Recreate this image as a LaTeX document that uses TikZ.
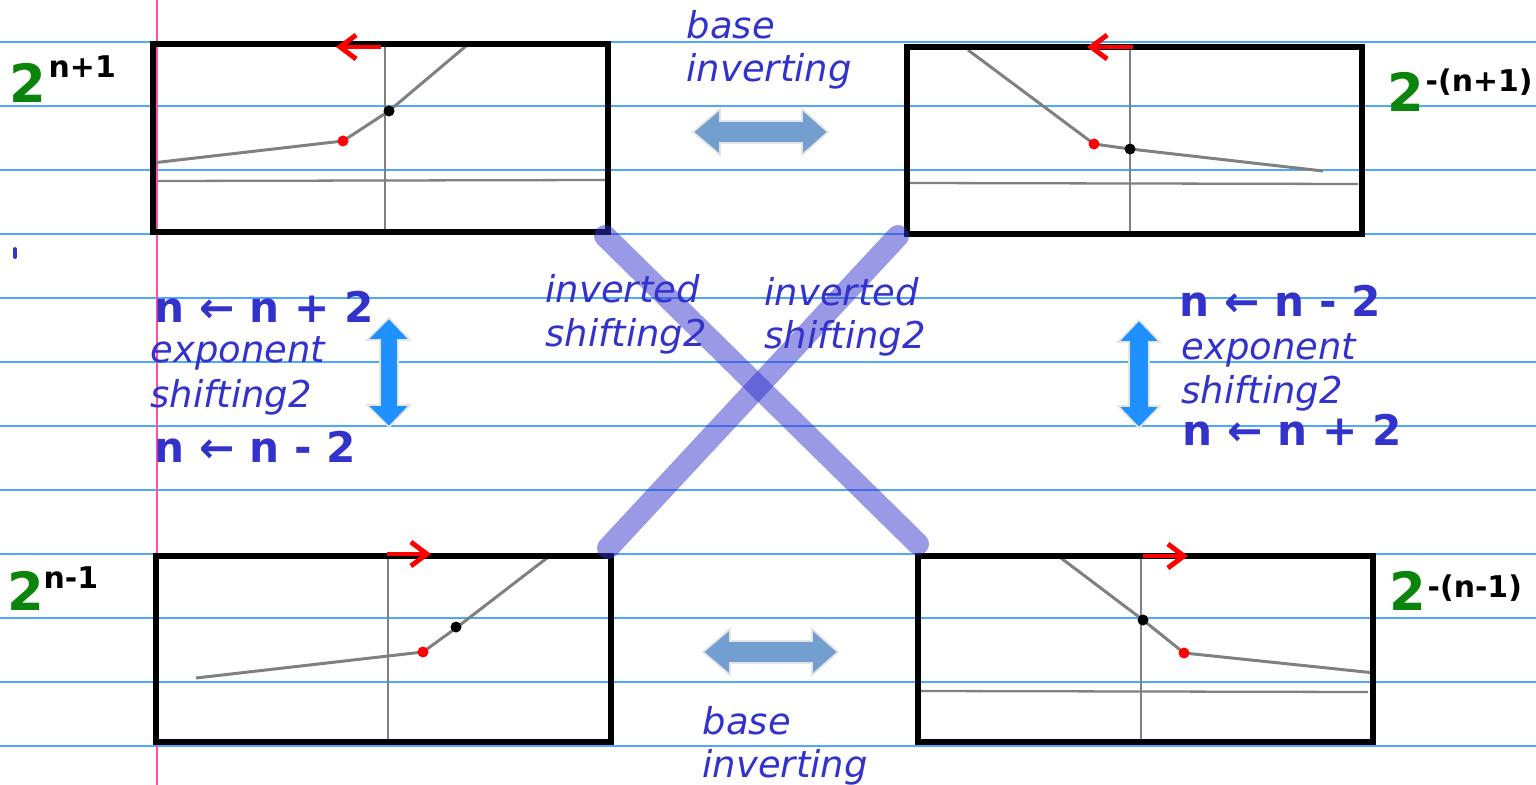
\documentclass[tikz,border=0pt]{standalone}
\usepackage{fontspec}
\setmainfont{DejaVu Sans}
\usetikzlibrary{arrows.meta}
\definecolor{NBRule}{HTML}{4FA8FF}
\definecolor{NBMargin}{HTML}{FF4FA7}
\definecolor{NBText}{HTML}{3333CC}
\definecolor{NBGreen}{HTML}{0A840A}
\definecolor{NBSwap}{HTML}{729FCF}
\definecolor{NBShift}{HTML}{1E90FF}
\definecolor{NBGraph}{HTML}{808080}

\begin{document}
\begin{tikzpicture}[x=0.01cm,y=-0.01cm,
  lbl/.style={anchor=base west,inner sep=0pt,text=NBText,font=\fontsize{10.5}{12.5}\selectfont\itshape},
  rulebold/.style={anchor=base west,inner sep=0pt,text=NBText,font=\fontsize{12}{14}\selectfont\bfseries},
  handtwo/.style={anchor=base west,inner sep=0pt,text=NBGreen,font=\fontsize{15}{18}\selectfont\bfseries},
  handexp/.style={anchor=base west,inner sep=0pt,text=black,font=\fontsize{8.5}{10}\selectfont\bfseries},
  frame/.style={line width=1.45pt},
  axisline/.style={NBGraph,line width=0.65pt},
  curve/.style={NBGraph,line width=0.85pt},
  shiftarrow/.style={red,line width=1.4pt,-{Straight Barb[length=0.16cm,width=0.24cm]}},
  crossbar/.style={NBText,opacity=.5,line width=0.22cm,line cap=round}]
\path[use as bounding box] (0,0) rectangle (1536,785);
% ruled paper
\draw[NBRule,line width=0.5pt] (0,42) -- (1536,42);
\draw[NBRule,line width=0.5pt] (0,106) -- (1536,106);
\draw[NBRule,line width=0.5pt] (0,170) -- (1536,170);
\draw[NBRule,line width=0.5pt] (0,234) -- (1536,234);
\draw[NBRule,line width=0.5pt] (0,298) -- (1536,298);
\draw[NBRule,line width=0.5pt] (0,362) -- (1536,362);
\draw[NBRule,line width=0.5pt] (0,426) -- (1536,426);
\draw[NBRule,line width=0.5pt] (0,490) -- (1536,490);
\draw[NBRule,line width=0.5pt] (0,554) -- (1536,554);
\draw[NBRule,line width=0.5pt] (0,618) -- (1536,618);
\draw[NBRule,line width=0.5pt] (0,682) -- (1536,682);
\draw[NBRule,line width=0.5pt] (0,746) -- (1536,746);
\draw[NBMargin,line width=0.5pt] (157,0) -- (157,785);
\draw[NBText,line width=1.1pt,line cap=round] (15,249) -- (15,257);
% top left: 2^(n+1)
\draw[axisline] (385,46) -- (385,231);
\draw[axisline] (158,181) -- (606,180);
\draw[curve] (152,163) -- (343,141) -- (389,111) -- (466,46);
\fill[red] (343,141) circle[radius=0.055cm];
\fill[black] (389,111) circle[radius=0.055cm];
\draw[frame] (153,44) rectangle (608,232);
\draw[shiftarrow] (381,47) -- (336,47);
\node[handtwo] (twoTL) at (9,103) {2};
\node[handexp] (expTL) at (48,78) {n+1};
% top right: 2^-(n+1)
\draw[axisline] (1130,50) -- (1130,234);
\draw[axisline] (909,183) -- (1358,184);
\draw[curve] (968,50) -- (1094,144) -- (1130,149) -- (1323,171);
\fill[red] (1094,144) circle[radius=0.055cm];
\fill[black] (1130,149) circle[radius=0.055cm];
\draw[frame] (907,47) rectangle (1362,234);
\draw[shiftarrow] (1133,47) -- (1087,47);
\node[handtwo] (twoTR) at (1387,112) {2};
\node[handexp] (expTR) at (1425,92) {-(n+1)};
% bottom left: 2^(n-1)
\draw[axisline] (388,558) -- (388,741);
\draw[curve] (196,678) -- (423,652) -- (456,628) -- (547,558);
\fill[red] (423,652) circle[radius=0.055cm];
\fill[black] (456,627) circle[radius=0.055cm];
\draw[frame] (156,556) rectangle (611,742);
\draw[shiftarrow] (387,554) -- (431,554);
\node[handtwo] (twoBL) at (7,610) {2};
\node[handexp] (expBL) at (43,588) {n-1};
% bottom right: 2^-(n-1)
\draw[axisline] (1141,558) -- (1141,741);
\draw[axisline] (920,691) -- (1368,692);
\draw[curve] (1061,558) -- (1143,620) -- (1184,653) -- (1375,673);
\fill[red] (1184,653) circle[radius=0.055cm];
\fill[black] (1143,620) circle[radius=0.055cm];
\draw[frame] (918,556) rectangle (1373,742);
\draw[shiftarrow] (1143,556) -- (1188,556);
\node[handtwo] (twoBR) at (1389,610) {2};
\node[handexp] (expBR) at (1427,597) {-(n-1)};
% inverted shifting cross
\coordinate (crossTL) at (605,236);
\coordinate (crossBR) at (918,544);
\coordinate (crossTR) at (898,236);
\coordinate (crossBL) at (608,548);
\draw[crossbar] (crossTL) -- (crossBR);
\draw[crossbar] (crossTR) -- (crossBL);
% base inverting arrows
\fill[NBSwap,draw=black!10,line width=0.5pt] (693,132) -- (720,109) -- (720,121) -- (802,121) -- (802,109) -- (828,132) -- (802,155) -- (802,143) -- (720,143) -- (720,155) -- cycle;
\fill[NBSwap,draw=black!10,line width=0.5pt] (703,652) -- (730,629) -- (730,641) -- (812,641) -- (812,629) -- (838,652) -- (812,675) -- (812,663) -- (730,663) -- (730,675) -- cycle;
% exponent shifting arrows
\fill[NBShift,draw=black!10,line width=0.5pt] (389,318) -- (410,340) -- (398,340) -- (398,405) -- (410,405) -- (389,427) -- (367,405) -- (380,405) -- (380,340) -- (367,340) -- cycle;
\fill[NBShift,draw=black!10,line width=0.5pt] (1139,320) -- (1160,342) -- (1149,342) -- (1149,406) -- (1160,406) -- (1139,428) -- (1118,406) -- (1129,406) -- (1129,342) -- (1118,342) -- cycle;
% labels
\node[lbl] (baseTop) at (686,39) {base};
\node[lbl] (invTop) at (686,82) {inverting};
\node[lbl] (baseBot) at (702,734) {base};
\node[lbl] (invBot) at (702,777) {inverting};
\node[lbl] (invertedL) at (545,303) {inverted};
\node[lbl] (shiftL) at (545,347) {shifting2};
\node[lbl] (invertedR) at (764,305) {inverted};
\node[lbl] (shiftR) at (764,348) {shifting2};
\node[lbl] (expoL) at (150,363) {exponent};
\node[lbl] (expoShiftL) at (150,407) {shifting2};
\node[lbl] (expoR) at (1181,360) {exponent};
\node[lbl] (expoShiftR) at (1181,403) {shifting2};
\node[rulebold] (upL) at (154,323) {n ← n + 2};
\node[rulebold] (downL) at (154,462) {n ← n - 2};
\node[rulebold] (downR) at (1179,317) {n ← n - 2};
\node[rulebold] (upR) at (1182,445) {n ← n + 2};
\end{tikzpicture}
\end{document}
